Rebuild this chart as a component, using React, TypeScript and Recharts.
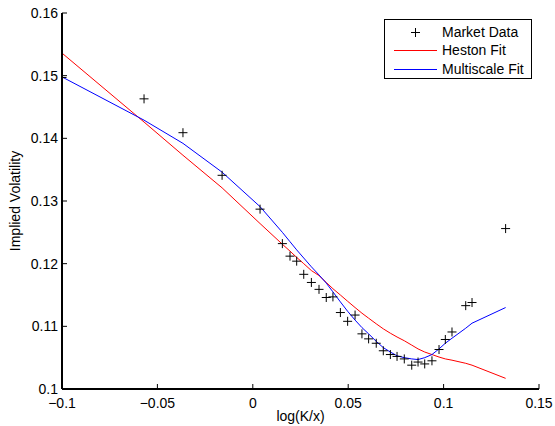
import React from 'react';
import { ComposedChart, Line, Scatter, XAxis, YAxis } from 'recharts';

const logMoneyness = [
  -0.1, -0.057, -0.0366, -0.0161, 0.0038, 0.0155, 0.0195, 0.023, 0.0267, 0.0307, 0.0347,
  0.0385, 0.042, 0.0459, 0.0497, 0.0536, 0.0572, 0.0607, 0.0647, 0.0684, 0.0721, 0.0756,
  0.0794, 0.0833, 0.0866, 0.0901, 0.0939, 0.0976, 0.1009, 0.1044, 0.1116, 0.1149, 0.1325,
];
const marketData = [
  0.1497, 0.1463, 0.1409, 0.1341, 0.1287, 0.1232, 0.1212, 0.1204, 0.1183, 0.117, 0.1159,
  0.1146, 0.1147, 0.1122, 0.1108, 0.1118, 0.1088, 0.108, 0.1073, 0.1061, 0.1055, 0.1052,
  0.1048, 0.1038, 0.1043, 0.104, 0.1045, 0.1063, 0.1079, 0.1091, 0.1133, 0.1138, 0.1256,
];
const hestonFit = [
  0.1536, 0.1426, 0.1373, 0.1321, 0.1264, 0.1231, 0.122, 0.121, 0.12, 0.1189, 0.1181,
  0.117, 0.116, 0.115, 0.114, 0.113, 0.1121, 0.1113, 0.1104, 0.1096, 0.1089, 0.1083,
  0.1077, 0.107, 0.1064, 0.1059, 0.1055, 0.1051, 0.1048, 0.1046, 0.1041, 0.1038, 0.1017,
];
const multiscaleFit = [
  0.1498, 0.1429, 0.1392, 0.1346, 0.1291, 0.125, 0.1235, 0.1222, 0.1209, 0.1195, 0.1182,
  0.1169, 0.1155, 0.1139, 0.1124, 0.111, 0.1098, 0.1088, 0.1076, 0.1066, 0.1059, 0.1053,
  0.105, 0.1048, 0.1047, 0.105, 0.1055, 0.1064, 0.1073, 0.1081, 0.1097, 0.1105, 0.113,
];
const xTicks = [-0.1, -0.05, 0, 0.05, 0.1, 0.15];
const yTicks = [0.1, 0.11, 0.12, 0.13, 0.14, 0.15, 0.16];
const legendItems = [
  { name: 'Market Data', kind: 'plus', color: '#000000' },
  { name: 'Heston Fit', kind: 'line', color: '#ff0000' },
  { name: 'Multiscale Fit', kind: 'line', color: '#0000ff' },
];

const data = logMoneyness.map((x, i) => ({
  x,
  market: marketData[i],
  heston: hestonFit[i],
  multiscale: multiscaleFit[i],
}));

const FONT = '"Liberation Sans", Arial, Helvetica, sans-serif';
const FS = 14;

const fmt = (v: number) => {
  const s = String(Math.round(v * 1000) / 1000);
  return s.startsWith('-') ? '\u2212' + s.slice(1) : s;
};

const Plus = (props: any) => {
  const { cx, cy } = props;
  if (cx == null || cy == null) return <g />;
  return (
    <path
      d={`M${cx - 4.5},${cy}H${cx + 4.5}M${cx},${cy - 4.5}V${cy + 4.5}`}
      stroke="#000"
      strokeWidth={1}
      fill="none"
    />
  );
};

const LegendBox = () => (
  <div
    style={{
      position: 'absolute',
      left: 384,
      top: 19,
      width: 146,
      height: 58,
      border: '1px solid #000',
      background: '#fff',
      fontFamily: FONT,
      fontSize: FS,
      lineHeight: '16px',
      color: '#000',
    }}
  >
    {legendItems.map((e, i) => (
      <div
        key={e.name}
        style={{ position: 'absolute', left: 0, top: 3 + i * 18.3, height: 18, width: 146 }}
      >
        <svg width={56} height={18} style={{ position: 'absolute', left: 0, top: 0 }}>
          {e.kind === 'plus' ? (
            <path d="M26,9.5H35M30.5,5V14" stroke="#000" strokeWidth={1} />
          ) : (
            <line x1={9} y1={9.5} x2={52} y2={9.5} stroke={e.color} strokeWidth={1} />
          )}
        </svg>
        <span style={{ position: 'absolute', left: 57, top: 1, whiteSpace: 'nowrap' }}>{e.name}</span>
      </div>
    ))}
  </div>
);

export default function App() {
  return (
    <div style={{ position: 'absolute', left: 0, top: 0, width: 555, height: 426, background: '#fff' }}>
      <ComposedChart
        width={555}
        height={426}
        data={data}
        margin={{ top: 13, right: 16, left: 0, bottom: 0 }}
        style={{ fontFamily: FONT }}
      >
        <XAxis
          xAxisId="bottom"
          dataKey="x"
          type="number"
          domain={[-0.1, 0.15]}
          ticks={xTicks}
          tickFormatter={fmt}
          orientation="bottom"
          height={37}
          tickSize={-5}
          tickMargin={14}
          axisLine={{ stroke: '#000', strokeWidth: 2 }}
          tickLine={{ stroke: '#000', strokeWidth: 1 }}
          tick={{ fill: '#000', fontSize: FS, fontFamily: FONT }}
          allowDataOverflow
          label={(p: any) => {
            const vb = p.viewBox || {};
            return (
              <text
                x={vb.x + vb.width / 2}
                y={421}
                textAnchor="middle"
                fontSize={FS}
                fontFamily={FONT}
                fill="#000"
              >
                log(K/x)
              </text>
            );
          }}
        />
        <XAxis
          xAxisId="top"
          dataKey="x"
          type="number"
          domain={[-0.1, 0.15]}
          ticks={xTicks}
          orientation="top"
          height={0}
          tickSize={-5}
          tick={false}
          axisLine={{ stroke: '#000', strokeWidth: 1 }}
          tickLine={{ stroke: '#000', strokeWidth: 1 }}
          allowDataOverflow
        />
        <YAxis
          yAxisId="left"
          type="number"
          domain={[0.1, 0.16]}
          ticks={yTicks}
          tickFormatter={fmt}
          width={62}
          tickSize={-5}
          tickMargin={9}
          axisLine={{ stroke: '#000', strokeWidth: 2 }}
          tickLine={{ stroke: '#000', strokeWidth: 1 }}
          tick={{ fill: '#000', fontSize: FS, fontFamily: FONT }}
          allowDataOverflow
          label={(p: any) => {
            const vb = p.viewBox || {};
            const cy = vb.y + vb.height / 2;
            return (
              <text
                x={20}
                y={cy}
                transform={`rotate(-90 20 ${cy})`}
                textAnchor="middle"
                fontSize={FS}
                fontFamily={FONT}
                fill="#000"
              >
                Implied Volatility
              </text>
            );
          }}
        />
        <YAxis
          yAxisId="right"
          orientation="right"
          type="number"
          domain={[0.1, 0.16]}
          ticks={yTicks}
          width={0}
          tickSize={-5}
          tick={false}
          axisLine={{ stroke: '#000', strokeWidth: 1 }}
          tickLine={{ stroke: '#000', strokeWidth: 1 }}
          allowDataOverflow
        />
        <Line
          xAxisId="bottom"
          yAxisId="left"
          type="linear"
          dataKey="heston"
          name="Heston Fit"
          stroke="#ff0000"
          strokeWidth={1}
          dot={false}
          isAnimationActive={false}
        />
        <Line
          xAxisId="bottom"
          yAxisId="left"
          type="linear"
          dataKey="multiscale"
          name="Multiscale Fit"
          stroke="#0000ff"
          strokeWidth={1}
          dot={false}
          isAnimationActive={false}
        />
        <Scatter
          xAxisId="bottom"
          yAxisId="left"
          dataKey="market"
          name="Market Data"
          shape={Plus}
          isAnimationActive={false}
        />
      </ComposedChart>
      <LegendBox />
    </div>
  );
}
